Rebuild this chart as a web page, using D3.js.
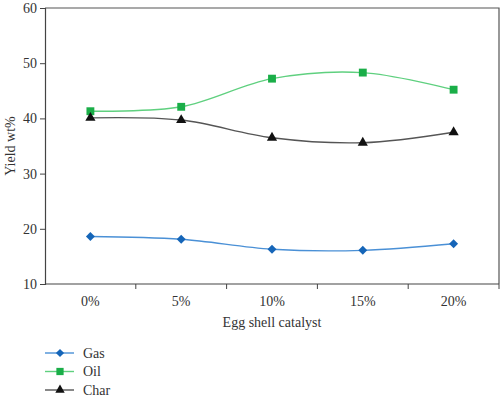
<!DOCTYPE html>
<head>
<meta charset="UTF-8">
<script src="https://d3js.org/d3.v7.min.js"></script>
<style>
  body { margin: 0; background: #fff; }
</style>
</head>
<body>
<div id="my_dataviz"></div>
<script>

// data
var categories = ["0%", "5%", "10%", "15%", "20%"];
var gas  = [18.6, 18.1, 16.3, 16.1, 17.3];
var oil  = [41.3, 42.1, 47.2, 48.3, 45.2];
var charY = [40.1, 39.7, 36.5, 35.6, 37.5];
var yTicks = [10, 20, 30, 40, 50, 60];

var serif = "'Liberation Serif', 'DejaVu Serif', serif";

var series = [
  {name: "Gas",  values: gas,   line: "#4a90d6", fill: "#1565b8", shape: d3.symbolSquare, rot: 45, size: 40},
  {name: "Oil",  values: oil,   line: "#5fd07f", fill: "#1aae48", shape: d3.symbolSquare, rot: 0, size: 62},
  {name: "Char", values: charY, line: "#555555", fill: "#111111", shape: d3.symbolTriangle, rot: 0, size: 45}
];

var margin = {top: 8, right: 1, bottom: 115, left: 45},
    width = 500 - margin.left - margin.right,
    height = 399 - margin.top - margin.bottom;

var svg = d3.select("#my_dataviz")
  .append("svg")
    .attr("width", 500)
    .attr("height", 399)
    .attr("font-family", serif)
  .append("g")
    .attr("transform", "translate(" + margin.left + "," + margin.top + ")");

var x = d3.scaleBand()
  .range([0, width])
  .domain(categories);

var y = d3.scaleLinear()
  .range([height, 0])
  .domain([10, 60]);

// frame (top and right)
svg.append("path")
  .attr("d", "M0,0H" + width + "V" + height)
  .attr("fill", "none")
  .attr("stroke", "#555")
  .attr("stroke-width", 1.2);

// x axis: ticks between the bands
var xAxis = svg.append("g")
  .attr("transform", "translate(0," + height + ")");
xAxis.append("line")
  .attr("x1", 0).attr("x2", width)
  .attr("stroke", "#444").attr("stroke-width", 1.2);
xAxis.selectAll("tick")
  .data(categories)
  .enter()
  .append("line")
    .attr("x1", function(d) { return x(d) + x.bandwidth(); })
    .attr("x2", function(d) { return x(d) + x.bandwidth(); })
    .attr("y1", 0).attr("y2", 5)
    .attr("stroke", "#444");
xAxis.selectAll("label")
  .data(categories)
  .enter()
  .append("text")
    .attr("x", function(d) { return x(d) + x.bandwidth() / 2; })
    .attr("y", 22)
    .attr("text-anchor", "middle")
    .attr("font-family", serif)
    .attr("fill", "#333")
    .style("font-size", "14px")
    .text(function(d) { return d; });

// y axis
var yAxis = svg.append("g")
  .call(d3.axisLeft(y).tickValues(yTicks).tickSize(5).tickPadding(3));
yAxis.attr("font-family", serif);
yAxis.select(".domain").attr("stroke", "#444").attr("stroke-width", 1.2);
yAxis.selectAll(".tick line").attr("stroke", "#444");
yAxis.selectAll(".tick text")
  .style("font-size", "14px")
  .attr("fill", "#333");

// axis titles
svg.append("text")
  .attr("x", width / 2)
  .attr("y", height + 43)
  .attr("text-anchor", "middle")
  .attr("font-family", serif)
  .attr("fill", "#333")
  .style("font-size", "14px")
  .text("Egg shell catalyst");

svg.append("text")
  .attr("transform", "translate(-30," + (height / 2) + ") rotate(-90)")
  .attr("text-anchor", "middle")
  .attr("font-family", serif)
  .attr("fill", "#333")
  .style("font-size", "14px")
  .text("Yield wt%");

// lines and markers
var line = d3.line()
  .x(function(d, i) { return x(categories[i]) + x.bandwidth() / 2; })
  .y(function(d) { return y(d); })
  .curve(d3.curveCatmullRom.alpha(0.5));

series.forEach(function(s) {
  svg.append("path")
    .datum(s.values)
    .attr("d", line)
    .attr("fill", "none")
    .attr("stroke", s.line)
    .attr("stroke-width", 1.4);

  svg.selectAll("mk")
    .data(s.values)
    .enter()
    .append("path")
      .attr("d", d3.symbol().type(s.shape).size(s.size))
      .attr("transform", function(d, i) {
        return "translate(" + (x(categories[i]) + x.bandwidth() / 2) + "," + y(d) + ") rotate(" + s.rot + ")";
      })
      .attr("fill", s.fill);
});

// legend
var legend = svg.selectAll("legend")
  .data(series)
  .enter()
  .append("g")
    .attr("transform", function(d, i) { return "translate(0," + (height + 69 + i * 18.5) + ")"; });
legend.append("line")
  .attr("x1", 0).attr("x2", 29)
  .attr("stroke", function(d) { return d.line; })
  .attr("stroke-width", 1.4);
legend.append("path")
  .attr("d", function(d) { return d3.symbol().type(d.shape).size(d.size * 0.85)(); })
  .attr("transform", function(d) { return "translate(15,0) rotate(" + d.rot + ")"; })
  .attr("fill", function(d) { return d.fill; });
legend.append("text")
  .attr("x", 38)
  .attr("y", 0)
  .attr("dy", "0.35em")
  .attr("font-family", serif)
  .attr("fill", "#333")
  .style("font-size", "14px")
  .text(function(d) { return d.name; });

</script>
</body>
